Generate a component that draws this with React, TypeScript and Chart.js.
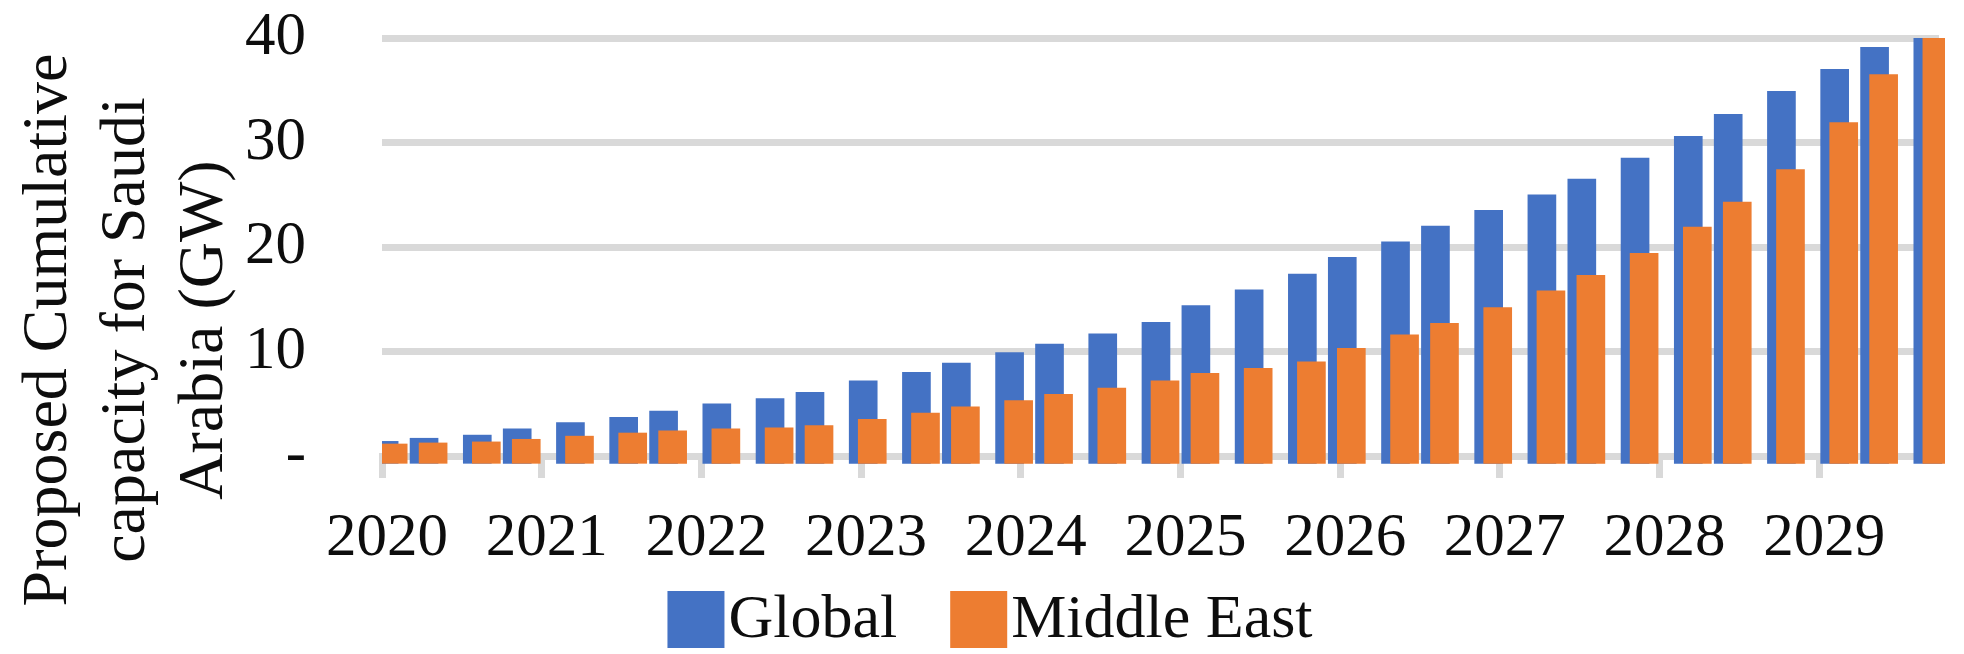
import React, { useEffect, useRef } from 'react';
import { Chart, registerables } from 'chart.js';

Chart.register(...registerables);

// ---- data ----
// months since January 2020 of each data point (date axis, monthly base unit)
const monthsSince2020 = [
  0, 3, 7, 10, 14, 18, 21, 25, 29, 32, 36, 40, 43, 47, 50, 54, 58,
  61, 65, 69, 72, 76, 79, 83, 87, 90, 94, 98, 101, 105, 109, 112, 116,
];
const globalGW = [
  1.4, 1.7, 2.0, 2.6, 3.2, 3.7, 4.3, 5.0, 5.5, 6.1, 7.2, 8.0, 8.9, 9.9, 10.7, 11.7, 12.8,
  14.4, 15.9, 17.4, 19.0, 20.5, 22.0, 23.5, 25.0, 26.5, 28.5, 30.6, 32.7, 34.9, 37.0, 39.1, 40.0,
];
const middleEastGW = [
  1.15, 1.25, 1.35, 1.6, 1.9, 2.2, 2.4, 2.6, 2.7, 2.9, 3.5, 4.1, 4.7, 5.3, 5.9, 6.5, 7.2,
  7.9, 8.4, 9.0, 10.3, 11.6, 12.7, 14.2, 15.8, 17.3, 19.4, 21.9, 24.3, 27.4, 31.9, 36.5, 40.0,
];
const yearLabels = ['2020', '2021', '2022', '2023', '2024', '2025', '2026', '2027', '2028', '2029'];
const seriesNames = ['Global', 'Middle East'];
const yTicks = [0, 10, 20, 30, 40];
const yTitleLines = ['Proposed Cumulative', 'capacity for Saudi', 'Arabia (GW)'];

// ---- styles ----
const W = 1964;
const H = 654;
const FONT = "'Liberation Serif', 'Times New Roman', serif";
const BLUE = '#4472C4';
const ORANGE = '#ED7D31';
const GRID = '#D9D9D9';
const TEXT = '#0d0d0d';
const SLOT_CENTER = 0.5; // bar pair sits in the middle of its month slot
const PAIR_SHIFT = 0.34; // half the offset between the overlapping series, in months
const AXIS_MAX_MONTH = 117;

const yTitlePlugin = {
  id: 'yTitle',
  afterDraw(chart: any) {
    const ctx = chart.ctx;
    ctx.save();
    ctx.fillStyle = TEXT;
    ctx.font = `64px ${FONT}`;
    ctx.textAlign = 'center';
    ctx.textBaseline = 'alphabetic';
    const firstBaseline = 66;
    const step = 78;
    const cy = 330;
    yTitleLines.forEach((line, i) => {
      ctx.save();
      ctx.translate(firstBaseline + step * i, cy);
      ctx.rotate(-Math.PI / 2);
      ctx.fillText(line, 0, 0);
      ctx.restore();
    });
    ctx.restore();
  },
};

const legendPlugin = {
  id: 'customLegend',
  afterDraw(chart: any) {
    const ctx = chart.ctx;
    ctx.save();
    ctx.font = `62px ${FONT}`;
    ctx.textBaseline = 'alphabetic';
    ctx.textAlign = 'left';
    const box = 57;
    const textGap = 4;
    const itemGap = 53;
    const items = chart.data.datasets.map((ds: any) => ({
      label: ds.label,
      color: ds.backgroundColor,
      w: ctx.measureText(ds.label).width,
    }));
    const total =
      items.reduce((s: number, it: any) => s + box + textGap + it.w, 0) + itemGap * (items.length - 1);
    let x = chart.width / 2 + 8 - total / 2;
    const boxTop = 591;
    const baseline = 637;
    items.forEach((it: any) => {
      ctx.fillStyle = it.color;
      ctx.fillRect(x, boxTop, box, box);
      x += box + textGap;
      ctx.fillStyle = TEXT;
      ctx.fillText(it.label, x, baseline);
      x += it.w + itemGap;
    });
    ctx.restore();
  },
};

export default function App() {
  const canvasRef = useRef<HTMLCanvasElement | null>(null);

  useEffect(() => {
    const canvas = canvasRef.current;
    if (!canvas) return;
    Chart.defaults.font.family = FONT;

    const barCommon = {
      grouped: false,
      barThickness: 28,
      base: -0.7,
      borderWidth: 0,
      clip: { left: 0, top: 0, right: 6, bottom: 8 },
    };

    const chart = new Chart(canvas, {
      type: 'bar',
      data: {
        datasets: [
          {
            label: seriesNames[0],
            data: monthsSince2020.map((m, i) => ({ x: m + SLOT_CENTER - PAIR_SHIFT, y: globalGW[i] })),
            backgroundColor: BLUE,
            order: 1,
            ...barCommon,
          },
          {
            label: seriesNames[1],
            data: monthsSince2020.map((m, i) => ({ x: m + SLOT_CENTER + PAIR_SHIFT, y: middleEastGW[i] })),
            backgroundColor: ORANGE,
            order: 0,
            ...barCommon,
          },
        ],
      } as any,
      options: {
        responsive: false,
        animation: false,
        devicePixelRatio: 1,
        layout: { padding: { top: 38, right: 25, left: 0, bottom: 0 } },
        plugins: {
          legend: { display: false },
          tooltip: { enabled: false },
          title: { display: false },
        },
        scales: {
          x: {
            type: 'linear',
            min: 0,
            max: AXIS_MAX_MONTH,
            offset: false,
            z: 1,
            grid: {
              display: true,
              drawOnChartArea: false,
              drawTicks: true,
              tickLength: 22,
              tickWidth: 7,
              tickColor: GRID,
              offset: false,
            },
            border: { display: true, color: GRID, width: 7 },
            ticks: {
              stepSize: 12,
              includeBounds: false,
              autoSkip: false,
              maxRotation: 0,
              minRotation: 0,
              padding: 24,
              labelOffset: 5,
              color: TEXT,
              font: { family: FONT, size: 61, lineHeight: 1.2 },
              callback: (v: any) => yearLabels[Math.round(Number(v) / 12)] ?? '',
            },
            afterFit: (s: any) => {
              s.height = H - 456;
            },
          },
          y: {
            type: 'linear',
            min: yTicks[0],
            max: yTicks[yTicks.length - 1],
            grid: {
              color: GRID,
              lineWidth: 7,
              drawTicks: true,
              tickLength: 76,
              tickColor: 'rgba(0,0,0,0)',
            },
            border: { display: false },
            ticks: {
              stepSize: 10,
              padding: 0,
              color: TEXT,
              font: { family: FONT, size: 61, lineHeight: 1.2 },
              callback: (v: any) => (Number(v) === 0 ? '-' : String(v)),
            },
            afterFit: (s: any) => {
              s.width = 382;
            },
          },
        },
      } as any,
      plugins: [yTitlePlugin, legendPlugin],
    });

    return () => chart.destroy();
  }, []);

  return (
    <div style={{ position: 'fixed', left: 0, top: 0, width: W, height: H, background: '#fff' }}>
      <canvas ref={canvasRef} width={W} height={H} style={{ display: 'block', width: W, height: H }} />
    </div>
  );
}
